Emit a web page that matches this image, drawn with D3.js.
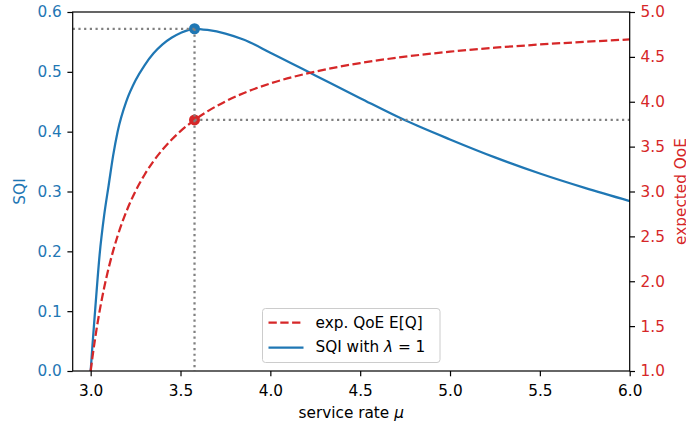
<!DOCTYPE html>
<html>
<head>
<meta charset="utf-8">
<script src="https://cdn.jsdelivr.net/npm/d3@7"></script>
<style>
  body { margin: 0; background: #fff; }
  svg { display: block; font-family: "DejaVu Sans", sans-serif; }
</style>
</head>
<body>
<svg id="chart" width="686" height="426"></svg>
<script>
// service rate values (x)
const mu = [3.000, 3.010, 3.025, 3.050, 3.075, 3.100, 3.125, 3.150, 3.200, 3.250,
  3.300, 3.350, 3.400, 3.450, 3.500, 3.578, 3.650, 3.750, 3.850, 4.000,
  4.250, 4.500, 4.750, 5.000, 5.250, 5.500, 5.750, 6.000];

// SQI with lambda = 1 (left axis)
const sqi = [0.000, 0.043, 0.102, 0.195, 0.260, 0.310, 0.360, 0.400, 0.452, 0.486,
  0.511, 0.531, 0.546, 0.557, 0.565, 0.572, 0.570, 0.564, 0.554, 0.532,
  0.494, 0.456, 0.419, 0.387, 0.357, 0.330, 0.306, 0.284];

// expected QoE E[Q] (right axis)
const qoe = [1.000, 1.155, 1.365, 1.670, 1.927, 2.147, 2.338, 2.505, 2.783, 3.006,
  3.187, 3.339, 3.467, 3.577, 3.672, 3.797, 3.893, 4.004, 4.095, 4.204,
  4.336, 4.431, 4.502, 4.558, 4.602, 4.638, 4.668, 4.694];

// optimum marked on both curves
const peakMu = 3.578;
const peakSqi = 0.572;
const peakQoe = 3.797;

const xTicks = [3.0, 3.5, 4.0, 4.5, 5.0, 5.5, 6.0];
const sqiTicks = [0.0, 0.1, 0.2, 0.3, 0.4, 0.5, 0.6];
const qoeTicks = [1.0, 1.5, 2.0, 2.5, 3.0, 3.5, 4.0, 4.5, 5.0];

const blue = "#1f77b4";
const red = "#d62728";
const fontSize = "15.3px";
const lw = 2.25;

const svg = d3.select("#chart");
const pLeft = 72.7, pRight = 629.7, pTop = 12, pBottom = 371;

const x = d3.scaleLinear().domain([2.9, 6.0]).range([pLeft, pRight]);
const yL = d3.scaleLinear().domain([0, 0.6]).range([pBottom, pTop]);
const yR = d3.scaleLinear().domain([1, 5]).range([pBottom, pTop]);

const pts = mu.map((m, i) => ({mu: m, sqi: sqi[i], qoe: qoe[i]}));

// curves
const sqiLine = d3.line().x(d => x(d.mu)).y(d => yL(d.sqi)).curve(d3.curveMonotoneX);
const qoeLine = d3.line().x(d => x(d.mu)).y(d => yR(d.qoe)).curve(d3.curveMonotoneX);

svg.append("path")
  .datum(pts)
  .attr("d", sqiLine)
  .attr("fill", "none")
  .attr("stroke", blue)
  .attr("stroke-width", lw);

svg.append("circle")
  .attr("cx", x(peakMu)).attr("cy", yL(peakSqi)).attr("r", 5.5)
  .attr("fill", blue);

svg.append("path")
  .datum(pts)
  .attr("d", qoeLine)
  .attr("fill", "none")
  .attr("stroke", red)
  .attr("stroke-width", lw)
  .attr("stroke-dasharray", "8.3,3.5");

svg.append("circle")
  .attr("cx", x(peakMu)).attr("cy", yR(peakQoe)).attr("r", 5.5)
  .attr("fill", red);

// dotted guide lines
const guides = [
  {x1: x(2.9), y1: yL(peakSqi), x2: x(peakMu), y2: yL(peakSqi)},
  {x1: x(peakMu), y1: yL(peakSqi), x2: x(peakMu), y2: yL(0)},
  {x1: x(peakMu), y1: yR(peakQoe), x2: x(6.0), y2: yR(peakQoe)}
];
svg.append("g")
  .selectAll("line")
  .data(guides)
  .enter().append("line")
  .attr("x1", d => d.x1).attr("y1", d => d.y1)
  .attr("x2", d => d.x2).attr("y2", d => d.y2)
  .attr("stroke", "#808080")
  .attr("stroke-width", lw)
  .attr("stroke-dasharray", "2.2,3.5");

// axes
const xAxis = svg.append("g")
  .attr("transform", `translate(0,${pBottom})`)
  .call(d3.axisBottom(x).tickValues(xTicks).tickFormat(d3.format(".1f"))
    .tickSize(5.3).tickPadding(8.7).tickSizeOuter(0));

const leftAxis = svg.append("g")
  .attr("transform", `translate(${pLeft},0)`)
  .call(d3.axisLeft(yL).tickValues(sqiTicks).tickFormat(d3.format(".1f"))
    .tickSize(5.3).tickPadding(5.6).tickSizeOuter(0));

const rightAxis = svg.append("g")
  .attr("transform", `translate(${pRight},0)`)
  .call(d3.axisRight(yR).tickValues(qoeTicks).tickFormat(d3.format(".1f"))
    .tickSize(5.3).tickPadding(5.6).tickSizeOuter(0));

[xAxis, leftAxis, rightAxis].forEach(g => {
  g.select(".domain").remove();
  g.selectAll(".tick line").attr("stroke", "#000").attr("stroke-width", 1.2);
  g.selectAll(".tick text")
    .attr("font-family", "DejaVu Sans")
    .attr("font-size", fontSize);
});
xAxis.selectAll(".tick text").attr("fill", "#000");
leftAxis.selectAll(".tick text").attr("fill", blue);
rightAxis.selectAll(".tick text").attr("fill", red);

// frame
svg.append("rect")
  .attr("x", pLeft).attr("y", pTop)
  .attr("width", pRight - pLeft).attr("height", pBottom - pTop)
  .attr("fill", "none")
  .attr("stroke", "#000")
  .attr("stroke-width", 1.2);

// axis labels
const xLabel = svg.append("text")
  .attr("x", (pLeft + pRight) / 2).attr("y", 418)
  .attr("text-anchor", "middle")
  .attr("font-size", fontSize)
  .attr("fill", "#000");
xLabel.append("tspan").text("service rate ");
xLabel.append("tspan").attr("font-style", "italic").text("μ");

svg.append("text")
  .attr("transform", `translate(24.5,${(pTop + pBottom) / 2}) rotate(-90)`)
  .attr("text-anchor", "middle")
  .attr("font-size", fontSize)
  .attr("fill", blue)
  .text("SQI");

svg.append("text")
  .attr("transform", `translate(686,${(pTop + pBottom) / 2}) rotate(-90)`)
  .attr("text-anchor", "middle")
  .attr("font-size", fontSize)
  .attr("fill", red)
  .text("expected QoE");

// legend
const legend = svg.append("g").attr("transform", "translate(262.5,308.5)");
legend.append("rect")
  .attr("width", 177.5).attr("height", 54)
  .attr("rx", 3).attr("ry", 3)
  .attr("fill", "#fff").attr("fill-opacity", 0.8)
  .attr("stroke", "#cccccc").attr("stroke-width", 1);

legend.append("line")
  .attr("x1", 6).attr("x2", 41).attr("y1", 14).attr("y2", 14)
  .attr("stroke", red).attr("stroke-width", lw)
  .attr("stroke-dasharray", "8.3,3.5");
legend.append("text")
  .attr("x", 53).attr("y", 19.3)
  .attr("font-size", fontSize)
  .text("exp. QoE E[Q]");

legend.append("line")
  .attr("x1", 6).attr("x2", 41).attr("y1", 39).attr("y2", 39)
  .attr("stroke", blue).attr("stroke-width", lw);
const l2 = legend.append("text")
  .attr("x", 53).attr("y", 43.8)
  .attr("font-size", fontSize);
l2.append("tspan").text("SQI with ");
l2.append("tspan").attr("font-style", "italic").text("λ");
l2.append("tspan").text(" = 1");
</script>
</body>
</html>
